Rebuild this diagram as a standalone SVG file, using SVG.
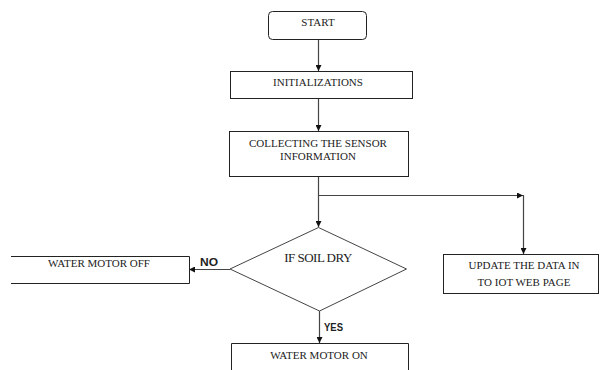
<svg xmlns="http://www.w3.org/2000/svg" width="604" height="370" viewBox="0 0 604 370">
<style>
.box{fill:#fff;stroke:#222;stroke-width:1}
.t{font-family:"Liberation Serif","Times New Roman",serif;font-size:11px;fill:#222;text-anchor:middle}
.c{fill:none;stroke:#444;stroke-width:1.2}
.lbl{font-family:"Liberation Sans",Arial,sans-serif;font-size:11px;font-weight:bold;fill:#222}
</style>
<defs>
<marker id="ah" viewBox="0 0 10 10" refX="10" refY="5" markerWidth="6" markerHeight="6" markerUnits="userSpaceOnUse" orient="auto">
<path d="M0,0 L10,5 L0,10 z" fill="#111"/>
</marker>
</defs>
<rect width="604" height="370" fill="#fff"/>
<g id="connectors">
<line class="c" x1="318.5" y1="39" x2="318.5" y2="71" marker-end="url(#ah)"/>
<line class="c" x1="318.5" y1="98" x2="318.5" y2="131" marker-end="url(#ah)"/>
<line class="c" x1="318.5" y1="176" x2="318.5" y2="227" marker-end="url(#ah)"/>
<line class="c" x1="318.5" y1="195.5" x2="523" y2="195.5" marker-end="url(#ah)"/>
<line class="c" x1="523.5" y1="195" x2="523.5" y2="254" marker-end="url(#ah)"/>
<line class="c" x1="230" y1="269.5" x2="189" y2="269.5" marker-end="url(#ah)"/>
<line class="c" x1="319.5" y1="311" x2="319.5" y2="343" marker-end="url(#ah)"/>
<text class="lbl" x="200" y="266" textLength="18" lengthAdjust="spacingAndGlyphs">NO</text>
<text class="lbl" x="324" y="331" textLength="19" lengthAdjust="spacingAndGlyphs">YES</text>
</g>
<g id="start">
<rect class="box" x="268.5" y="11.5" width="98" height="28" rx="4"/>
<text class="t" x="318" y="26">START</text>
</g>
<g id="init">
<rect class="box" x="230.5" y="71.5" width="182" height="27"/>
<text class="t" x="318" y="86">INITIALIZATIONS</text>
</g>
<g id="collect">
<rect class="box" x="229.5" y="131.5" width="179" height="45"/>
<text class="t" x="318" y="147">COLLECTING THE SENSOR</text>
<text class="t" x="318" y="160">INFORMATION</text>
</g>
<g id="decision">
<polygon points="318.5,227.5 406.5,269 319.5,311 230,269" fill="#fff" stroke="#444" stroke-width="1"/>
<text x="318" y="262" font-family="'Liberation Serif','Times New Roman',serif" font-size="13" fill="#222" text-anchor="middle" letter-spacing="-0.5">IF SOIL DRY</text>
</g>
<g id="update">
<rect class="box" x="443.5" y="254.5" width="155" height="39"/>
<text class="t" x="524" y="269">UPDATE THE DATA IN</text>
<text class="t" x="524" y="286">TO IOT WEB PAGE</text>
</g>
<g id="motoroff">
<path d="M11,256.5 H189.5 V283.5 H11" fill="#fff" stroke="#222" stroke-width="1"/>
<text class="t" x="99" y="267">WATER MOTOR OFF</text>
</g>
<g id="motoron">
<path d="M231.5,371 V343.5 H408.5 V371" fill="#fff" stroke="#222" stroke-width="1"/>
<text class="t" x="319" y="359">WATER MOTOR ON</text>
</g>
</svg>
